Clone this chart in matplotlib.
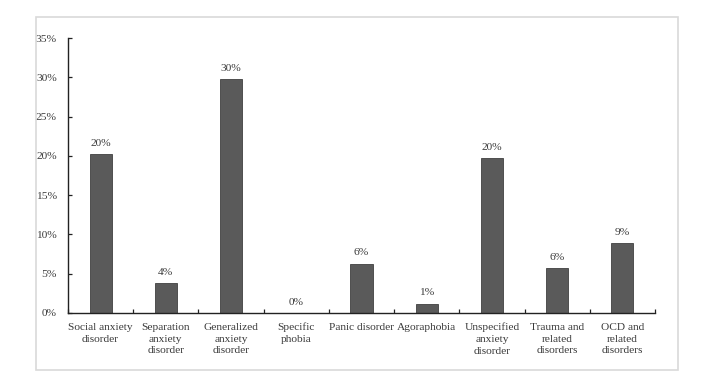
import matplotlib
matplotlib.use("Agg")
import matplotlib.pyplot as plt
from matplotlib.patches import Rectangle
from matplotlib.ticker import PercentFormatter, FixedLocator
import numpy as np

categories = [
    "Social anxiety\ndisorder",
    "Separation\nanxiety\ndisorder",
    "Generalized\nanxiety\ndisorder",
    "Specific\nphobia",
    "Panic disorder",
    "Agoraphobia",
    "Unspecified\nanxiety\ndisorder",
    "Trauma and\nrelated\ndisorders",
    "OCD and\nrelated\ndisorders",
]
shares = [20.2, 3.8, 29.8, 0.0, 6.3, 1.2, 19.7, 5.7, 8.9]
bar_labels = ["20%", "4%", "30%", "0%", "6%", "1%", "20%", "6%", "9%"]
y_ticks = [0, 5, 10, 15, 20, 25, 30, 35]

plt.rcParams["font.family"] = ["Liberation Serif", "DejaVu Serif"]
txt = "#3a3a3a"
fs = 8.2

fig = plt.figure(figsize=(7.2, 3.88), dpi=100)
fig.patch.set_facecolor("white")

# light grey frame round the chart area
fig.patches.append(Rectangle((36 / 720, 1 - 370 / 388), (678 - 36) / 720, (370 - 17) / 388,
                             transform=fig.transFigure, fill=False,
                             edgecolor="#d9d9d9", linewidth=1.2))

ax = fig.add_axes([68 / 720, 1 - 313 / 388, (655 - 68) / 720, (313 - 38) / 388])

x = np.arange(len(categories))
ax.bar(x, shares, width=0.34, color="#5a5a5a", edgecolor="#404040", linewidth=0.6)

for xi, v, lab in zip(x, shares, bar_labels):
    ax.text(xi, v + 0.8, lab, ha="center", va="bottom", fontsize=fs, color=txt)

ax.set_xlim(-0.5, len(categories) - 0.5)
ax.set_ylim(0, 35)
ax.set_yticks(y_ticks)
ax.yaxis.set_major_formatter(PercentFormatter(decimals=0))

ax.set_xticks(x)
ax.set_xticklabels(categories, fontsize=fs, color=txt, linespacing=1.4)
ax.xaxis.set_minor_locator(FixedLocator(np.arange(-0.5, len(categories), 1.0)))
ax.tick_params(axis="x", which="major", length=0, pad=7)
ax.tick_params(axis="x", which="minor", direction="in", length=3, width=0.9, color="#222222")
ax.tick_params(axis="y", direction="in", length=3, width=0.9, labelsize=fs,
               labelcolor=txt, pad=8, color="#222222")

for side in ["top", "right"]:
    ax.spines[side].set_visible(False)
for side in ["left", "bottom"]:
    ax.spines[side].set_linewidth(1.0)
    ax.spines[side].set_color("#222222")

fig.savefig("out.png", dpi=100)
